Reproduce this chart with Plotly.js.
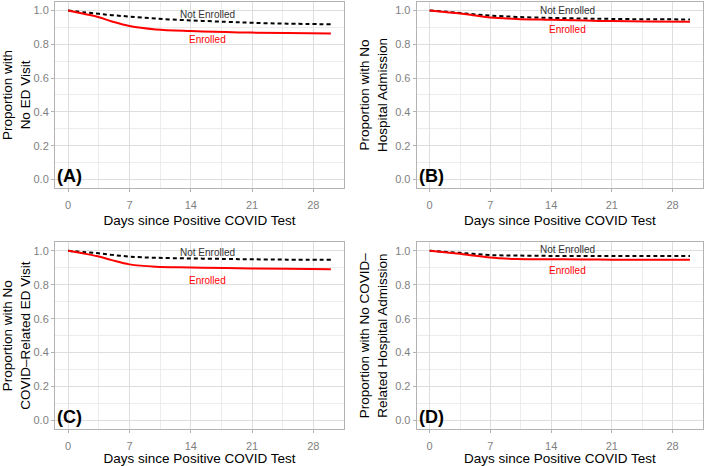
<!DOCTYPE html>
<html>
<head>
<meta charset="utf-8">
<script src="https://cdn.plot.ly/plotly-3.0.1.min.js"></script>
<style>
  html, body { margin: 0; padding: 0; background: #fff; }
  #plot { width: 708px; height: 466px; }
</style>
</head>
<body>
<div id="plot"></div>
<script>
// days since positive test
var days = [0, 2, 3.5, 5, 7, 10, 14, 18, 21, 25, 30];

// (A) no ED visit
var edNotEnrolled = [1.0, 0.988, 0.980, 0.972, 0.964, 0.952, 0.941, 0.933, 0.927, 0.922, 0.918];
var edEnrolled    = [1.0, 0.978, 0.960, 0.935, 0.908, 0.888, 0.878, 0.872, 0.869, 0.866, 0.863];

// (B) no hospital admission
var hospNotEnrolled = [1.0, 0.992, 0.985, 0.978, 0.970, 0.962, 0.956, 0.952, 0.950, 0.948, 0.947];
var hospEnrolled    = [1.0, 0.990, 0.982, 0.972, 0.958, 0.950, 0.945, 0.940, 0.937, 0.935, 0.933];

// (C) no covid-related ED visit
var covEdNotEnrolled = [1.0, 0.992, 0.985, 0.976, 0.966, 0.959, 0.955, 0.952, 0.950, 0.948, 0.947];
var covEdEnrolled    = [1.0, 0.982, 0.966, 0.945, 0.920, 0.906, 0.902, 0.898, 0.896, 0.894, 0.892];

// (D) no covid-related hospital admission
var covHospNotEnrolled = [1.0, 0.993, 0.988, 0.982, 0.975, 0.972, 0.970, 0.970, 0.969, 0.969, 0.969];
var covHospEnrolled    = [1.0, 0.990, 0.983, 0.972, 0.960, 0.952, 0.950, 0.949, 0.948, 0.947, 0.947];

var panelLetters = ["(A)", "(B)", "(C)", "(D)"];
var yTitles = [
  "Proportion with<br>No ED Visit",
  "Proportion with No<br>Hospital Admission",
  "Proportion with No<br>COVID\u2013Related ED Visit",
  "Proportion with No COVID\u2013<br>Related Hospital Admission"
];
var notEnrolledLabelY = [0.978, 0.998, 0.988, 1.01];
var enrolledLabelY = [0.83, 0.888, 0.827, 0.886];

var notEnrolledSeries = [edNotEnrolled, hospNotEnrolled, covEdNotEnrolled, covHospNotEnrolled];
var enrolledSeries = [edEnrolled, hospEnrolled, covEdEnrolled, covHospEnrolled];

var xDomains = [[0.0777, 0.4859], [0.5885, 0.9929], [0.0777, 0.4859], [0.5885, 0.9929]];
var yDomains = [[0.5966, 0.9957], [0.5966, 0.9957], [0.0794, 0.4800], [0.0794, 0.4800]];

var data = [];
var annotations = [];
var layout = {
  width: 708,
  height: 466,
  margin: { l: 0, r: 0, t: 0, b: 0 },
  paper_bgcolor: "#ffffff",
  plot_bgcolor: "#ffffff",
  showlegend: false,
  font: { family: "Liberation Sans, Arial, sans-serif", color: "#000" }
};

for (var i = 0; i < 4; i++) {
  var n = i === 0 ? "" : String(i + 1);
  data.push({
    x: days, y: notEnrolledSeries[i], xaxis: "x" + n, yaxis: "y" + n,
    mode: "lines", line: { color: "#000000", width: 2, dash: "4px,3px", shape: "spline" },
    hoverinfo: "skip"
  });
  data.push({
    x: days, y: enrolledSeries[i], xaxis: "x" + n, yaxis: "y" + n,
    mode: "lines", line: { color: "#ff0000", width: 2, shape: "spline" },
    hoverinfo: "skip"
  });

  layout["xaxis" + n] = {
    domain: xDomains[i], anchor: "y" + n,
    range: [-1.5, 31.5],
    tickvals: [0, 7, 14, 21, 28],
    ticks: "outside", ticklen: 3, tickcolor: "#b3b3b3",
    ticklabelstandoff: 4,
    tickfont: { size: 11, color: "#7f7f7f" },
    showgrid: true, gridcolor: "#dedede", gridwidth: 1,
    minor: { tickvals: [3.5, 10.5, 17.5, 24.5, 31.5], showgrid: true, gridcolor: "#ececec", gridwidth: 1 },
    showline: true, mirror: true, linecolor: "#b3b3b3", linewidth: 1,
    zeroline: false,
    title: { text: "Days since Positive COVID Test", font: { size: 13.5, color: "#000" }, standoff: 5 }
  };
  layout["yaxis" + n] = {
    domain: yDomains[i], anchor: "x" + n,
    range: [-0.05, 1.05],
    tickvals: [0, 0.2, 0.4, 0.6, 0.8, 1.0],
    tickformat: ".1f",
    ticks: "outside", ticklen: 3, tickcolor: "#b3b3b3",
    tickfont: { size: 11, color: "#7f7f7f" },
    showgrid: true, gridcolor: "#dedede", gridwidth: 1,
    minor: { tickvals: [0.1, 0.3, 0.5, 0.7, 0.9], showgrid: true, gridcolor: "#ececec", gridwidth: 1 },
    showline: true, mirror: true, linecolor: "#b3b3b3", linewidth: 1,
    zeroline: false,
    title: { text: yTitles[i], font: { size: 13.5, color: "#000" }, standoff: 4 }
  };

  annotations.push({
    xref: "x" + n, yref: "y" + n, x: 15.9, y: notEnrolledLabelY[i],
    text: "Not Enrolled", showarrow: false,
    font: { size: 10, color: "#333333" }
  });
  annotations.push({
    xref: "x" + n, yref: "y" + n, x: 15.9, y: enrolledLabelY[i],
    text: "Enrolled", showarrow: false,
    font: { size: 10, color: "#ff0000" }
  });
  annotations.push({
    xref: "x" + n + " domain", yref: "y" + n + " domain", x: 0, y: 0,
    xanchor: "left", yanchor: "bottom",
    text: "<b>" + panelLetters[i] + "</b>", showarrow: false,
    font: { size: 18, color: "#000" }
  });
}
layout.annotations = annotations;

Plotly.newPlot("plot", data, layout, { displayModeBar: false, staticPlot: true });
</script>
</body>
</html>
